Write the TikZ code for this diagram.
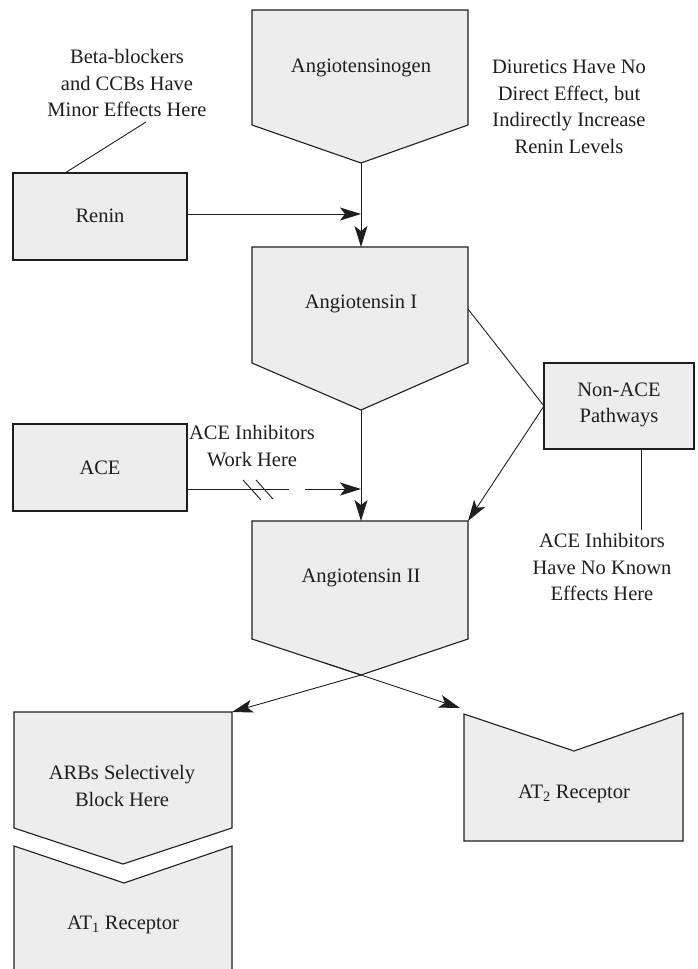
\documentclass[tikz,border=0pt]{standalone}
\usepackage{fontspec}
\setmainfont{Liberation Serif}
\usetikzlibrary{arrows.meta}
\definecolor{shapegray}{HTML}{EDEDED}
\definecolor{inkgray}{HTML}{1E1E1E}
\begin{document}
\begin{tikzpicture}[x=1pt,y=-1pt,
  shp/.style={draw=inkgray, fill=shapegray, line width=1.1pt, line join=miter},
  conn/.style={draw=inkgray, line width=0.9pt},
  arr/.style={conn, -{Stealth[length=21pt,width=13pt,inset=5pt]}},
  txt/.style={align=center, text=inkgray, font=\fontsize{20.5}{26.5}\selectfont, inner sep=0pt}]
\useasboundingbox (0,0) rectangle (698,969);

% shapes
\draw[shp] (252,10) -- (468,10) -- (468,125) -- (361,163) -- (252,125) -- cycle;
\draw[shp] (252,247) -- (468,247) -- (468,363) -- (361,410) -- (252,363) -- cycle;
\draw[shp] (252,521) -- (468,521) -- (468,639) -- (361,675) -- (252,639) -- cycle;
\draw[shp] (14,712) -- (232,712) -- (232,828) -- (123,864) -- (14,828) -- cycle;
\fill[shapegray] (14,969) -- (14,846) -- (124,883) -- (232,846) -- (232,969) -- cycle;
\draw[shp, fill=none] (14,969) -- (14,846) -- (124,883) -- (232,846) -- (232,969);
\draw[shp] (464,714) -- (574,751) -- (683,713) -- (683,841) -- (464,841) -- cycle;
\draw[shp] (13,173) rectangle (187,260);
\draw[shp] (13,424) rectangle (187,511);
\draw[shp] (544,363) rectangle (694,449);

% text nodes
\node[txt] (agen) at (361,68) {Angiotensinogen};
\node[txt] (ang1) at (361,304) {Angiotensin I};
\node[txt] (ang2) at (361,578) {Angiotensin II};
\node[txt] (renin) at (100,216) {Renin};
\node[txt] (ace) at (100,468) {ACE};
\node[txt] (nonace) at (619,405) {Non-ACE\\Pathways};
\node[txt] (arbs) at (122,786) {ARBs Selectively\\Block Here};
\node[txt] (at1) at (123,925) {AT\textsubscript{1} Receptor};
\node[txt] (at2) at (574,794) {AT\textsubscript{2} Receptor};
\node[txt] (beta) at (127,83) {Beta-blockers\\and CCBs Have\\Minor Effects Here};
\node[txt] (diur) at (569,107) {Diuretics Have No\\Direct Effect, but\\Indirectly Increase\\Renin Levels};
\node[txt] (acework) at (252,446) {ACE Inhibitors\\Work Here};
\node[txt] (acenone) at (602,567) {ACE Inhibitors\\Have No Known\\Effects Here};

% anchor coordinates
\coordinate (agenB) at (361,163);
\coordinate (ang1T) at (361,247);
\coordinate (ang1B) at (361,410);
\coordinate (ang1R) at (468,309);
\coordinate (ang2T) at (361,521);
\coordinate (ang2TR) at (468,521);
\coordinate (ang2B) at (361,675);
\coordinate (ang2E) at (325,663);
\coordinate (reninR) at (187,214);
\coordinate (reninTop) at (65,173);
\coordinate (reninJ) at (361,214);
\coordinate (betaEnd) at (146,122);
\coordinate (aceR) at (187,489);
\coordinate (gapL) at (289,489);
\coordinate (gapR) at (305,489);
\coordinate (aceJ) at (361,489);
\coordinate (nonL) at (544,406);
\coordinate (nonB) at (641,449);
\coordinate (noneEnd) at (641,530);
\coordinate (arbTR) at (232,712);
\coordinate (at2tip) at (460,708);

% connectors
\draw[arr] (agenB) -- (ang1T);
\draw[arr] (reninR) -- (reninJ);
\draw[conn] (betaEnd) -- (reninTop);
\draw[arr] (ang1B) -- (ang2T);
\draw[conn] (aceR) -- (gapL);
\draw[arr] (gapR) -- (aceJ);
\draw[conn] (243,480) -- (261,500);
\draw[conn] (256,480) -- (273,499);
\draw[conn] (ang1R) -- (nonL);
\draw[arr] (nonL) -- (ang2TR);
\draw[conn] (nonB) -- (noneEnd);
\draw[arr] (ang2B) -- (arbTR);
\draw[arr] (ang2E) -- (at2tip);
\end{tikzpicture}
\end{document}
